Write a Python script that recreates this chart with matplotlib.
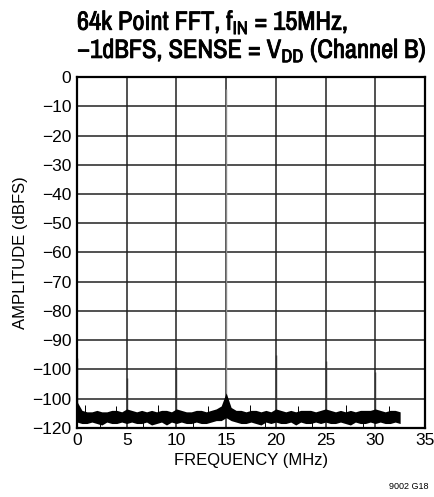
import matplotlib
matplotlib.use('Agg')
import matplotlib.pyplot as plt
import matplotlib.font_manager as fm
import matplotlib.patheffects as pe
import numpy as np

plt.rcParams['font.family'] = ['Liberation Sans', 'DejaVu Sans']

# spurs / signal (MHz, dBFS)
spur_freq = [0, 5, 10, 15, 20, 25, 30]
spur_amp = [-96, -103, -99, -4, -95, -97, -101]

# noise floor envelope, every 0.5 MHz from 0 to 32.5
noise_freq = np.arange(0, 33, 0.5)
noise_top = [
    -111, -114, -114.5, -114.5, -114, -114.5, -114.5, -114, -114, -114.5,
    -113.5, -114, -114.5, -114, -114.5, -114, -114.5, -114, -114, -114.5,
    -113.5, -114, -114.5, -114.5, -114, -114, -114.5, -114, -113.5, -112.5,
    -108, -113, -114, -114, -114.5, -114, -114, -114.5, -114, -114.5,
    -113.5, -114, -114.5, -114, -114.5, -114, -114, -114, -114.5, -114,
    -113.5, -114, -114.5, -114, -114.5, -114, -114.5, -114, -114, -114,
    -113.5, -114, -114.5, -114, -114, -114.5]
noise_bot = [
    -118, -118.5, -118.5, -118, -118.5, -119, -118, -118.5, -118.5, -118,
    -118.5, -118, -118.5, -118.5, -118, -119, -118.5, -118, -119, -118,
    -118.5, -118, -118.5, -118.5, -118, -118.5, -118.5, -118, -117.5, -117.5,
    -116.5, -117.5, -118, -118.5, -118.5, -118, -118.5, -119, -118, -118.5,
    -118, -118.5, -118.5, -118, -119, -118, -118.5, -118.5, -118, -118.5,
    -118, -118.5, -118.5, -118, -118.5, -119, -118, -118.5, -118.5, -118,
    -118.5, -118, -118.5, -118.5, -118, -118.5]
# occasional noise outliers (MHz, dBFS)
out_freq = [0.8, 2.3, 3.9, 6.6, 8.1, 11.7, 13.2, 17.4, 18.9, 22.2, 23.6, 27.1, 28.8, 31.4]
out_amp = [-112, -120, -112.5, -119.8, -112, -120, -112.5, -112, -119.8, -112.5, -120, -112, -119.8, -112.5]

yticks = np.arange(0, -121, -10)
ytick_labels = ['0', '\u221210', '\u221220', '\u221230', '\u221240', '\u221250',
                '\u221260', '\u221270', '\u221280', '\u221290', '\u2212100',
                '\u2212100', '\u2212120']
xticks = [0, 5, 10, 15, 20, 25, 30, 35]

# condensed face for the title if one is installed
names = sorted({f.name for f in fm.fontManager.ttflist})
cond = [n for n in names if 'Narrow' in n or 'Condensed' in n]
title_family = cond + ['Liberation Sans', 'DejaVu Sans']
bolder = [pe.withStroke(linewidth=0.6, foreground='black')]

fig = plt.figure(figsize=(4.35, 4.97), dpi=100)
ax = fig.add_axes([0.177, 0.139, 0.8, 0.706])

ax.fill_between(noise_freq, noise_bot, noise_top, color='black', lw=0, zorder=3)
ax.vlines(out_freq, -116, out_amp, color='black', lw=0.7, zorder=3)
for f, a in zip(spur_freq, spur_amp):
    col = '#8a8a8a' if a > -50 else '#333333'
    ax.vlines(f, -114, a, color=col, lw=1.0, zorder=2)

ax.set_xlim(0, 35)
ax.set_ylim(-120, 0)
ax.set_xticks(xticks)
ax.set_yticks(yticks)
ax.set_yticklabels(ytick_labels)
ax.tick_params(length=0, labelsize=12.5, pad=4)
ax.grid(True, color='#222222', lw=1.1)
ax.set_axisbelow(True)
for s in ax.spines.values():
    s.set_linewidth(1.6)

ax.set_xlabel('FREQUENCY (MHz)', fontsize=12, labelpad=3)
ax.set_ylabel('AMPLITUDE (dBFS)', fontsize=12, labelpad=3)

t1 = fig.text(0.177, 1 - 30 / 497, '64k Point FFT, f$_{\\mathregular{IN}}$ = 15MHz,',
              fontsize=17, fontweight='bold', family=title_family,
              ha='left', va='baseline', path_effects=bolder)
t2 = fig.text(0.177, 1 - 58 / 497, '\u20131dBFS, SENSE = V$_{\\mathregular{DD}}$ (Channel B)',
              fontsize=17, fontweight='bold', family=title_family,
              ha='left', va='baseline', path_effects=bolder)
fig.text(0.985, 0.012, '9002 G18', fontsize=6.5, ha='right', va='bottom')

# size the title so the second line spans the same width as in the reference
fig.canvas.draw()
r = fig.canvas.get_renderer()
w = t2.get_window_extent(r).width
s = min(17 * 350 / w, 19.5)
t1.set_fontsize(s)
t2.set_fontsize(s)

fig.savefig('out.png', dpi=100)
